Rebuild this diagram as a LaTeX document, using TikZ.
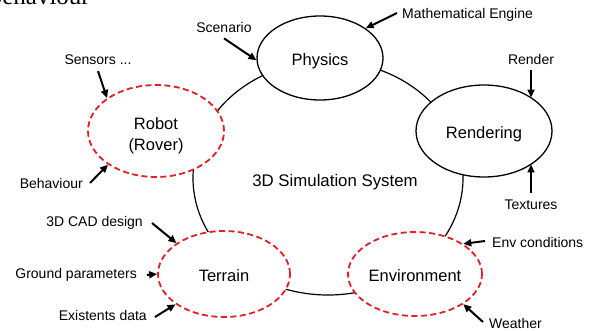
\documentclass[tikz,border=0pt]{standalone}
\usepackage{fontspec}
\setmainfont{Liberation Sans}
\newfontfamily\cutserif{Liberation Serif}
\usetikzlibrary{shapes.geometric,arrows.meta}
\definecolor{dred}{RGB}{228,30,38}
\begin{document}
\begin{tikzpicture}[x=1pt,y=-1pt,
  mainnode/.style={ellipse, draw, line width=1.3pt, fill=white, inner sep=0pt,
    font=\fontsize{16.5}{21}\selectfont, align=center, text depth=0pt, text height=15.5pt},
  dshnode/.style={mainnode, draw=dred, line width=1.8pt, dash pattern=on 6pt off 3.5pt},
  lab/.style={inner sep=1pt, font=\fontsize{14}{16}\selectfont},
  arr/.style={line width=2pt, -{Triangle[length=8pt,width=7pt]}}]
\useasboundingbox (0,0) rectangle (594,330);
\node[anchor=base east, font=\cutserif\fontsize{25}{28}\selectfont, inner sep=0pt] (cut) at (90,4) {Behaviour};
\draw[line width=1.2pt] (328,178) ellipse [x radius=135, y radius=117];
\node[lab, font=\fontsize{16.8}{20}\selectfont] (sys) at (335,182) {3D Simulation System};
\node[mainnode, minimum width=126pt, minimum height=84pt] (phys) at (320,58) {Physics};
\node[mainnode, minimum width=136pt, minimum height=92pt] (rend) at (484,131) {Rendering};
\node[dshnode, minimum width=136pt, minimum height=92pt, text height=38pt] (robot) at (156,131) {Robot\\(Rover)};
\node[dshnode, minimum width=132pt, minimum height=86pt] (terr) at (224,274) {Terrain};
\node[dshnode, minimum width=134pt, minimum height=84pt] (env) at (415,274) {Environment};

\node[lab] (scen) at (224,27) {Scenario};
\node[lab] (sens) at (98,60) {Sensors ...};
\node[lab, anchor=west] (math) at (401,15) {Mathematical Engine};
\node[lab] (rtx) at (531,59) {Render};
\node[lab] (tex) at (531,205) {Textures};
\node[lab, anchor=east] (beh) at (84,183) {Behaviour};
\node[lab, anchor=east] (cad) at (144,223) {3D CAD design};
\node[lab, anchor=east] (gnd) at (138,275) {Ground parameters};
\node[lab, anchor=east] (exi) at (148,315) {Existents data};
\node[lab, anchor=west] (envc) at (491,242) {Env conditions};
\node[lab, anchor=west] (wea) at (488,323) {Weather};

\draw[arr] ([yshift=-5pt]scen.south) -- (phys.182);
\draw[arr] ([yshift=-5pt]sens.south) -- (robot.146);
\draw[arr] ([xshift=-4pt,yshift=2pt]math.west) -- (phys.33);
\draw[arr] ([yshift=-5pt]rtx.south) -- (rtx.south |- rend.35);
\draw[arr] ([yshift=6pt]tex.north) -- (tex.north |- rend.-35);
\draw[arr] ([xshift=6pt]beh.east) -- (robot.215);
\draw[arr] ([xshift=8pt]cad.east) -- (terr.147);
\draw[arr] ([xshift=9pt]gnd.east) -- (terr.180);
\draw[arr] ([xshift=7pt,yshift=-2pt]exi.east) -- (terr.212);
\draw[arr] ([xshift=-6pt,yshift=1pt]envc.west) -- (env.32);
\draw[arr] ([xshift=-5pt,yshift=1pt]wea.west) -- (env.-32);
\end{tikzpicture}
\end{document}
